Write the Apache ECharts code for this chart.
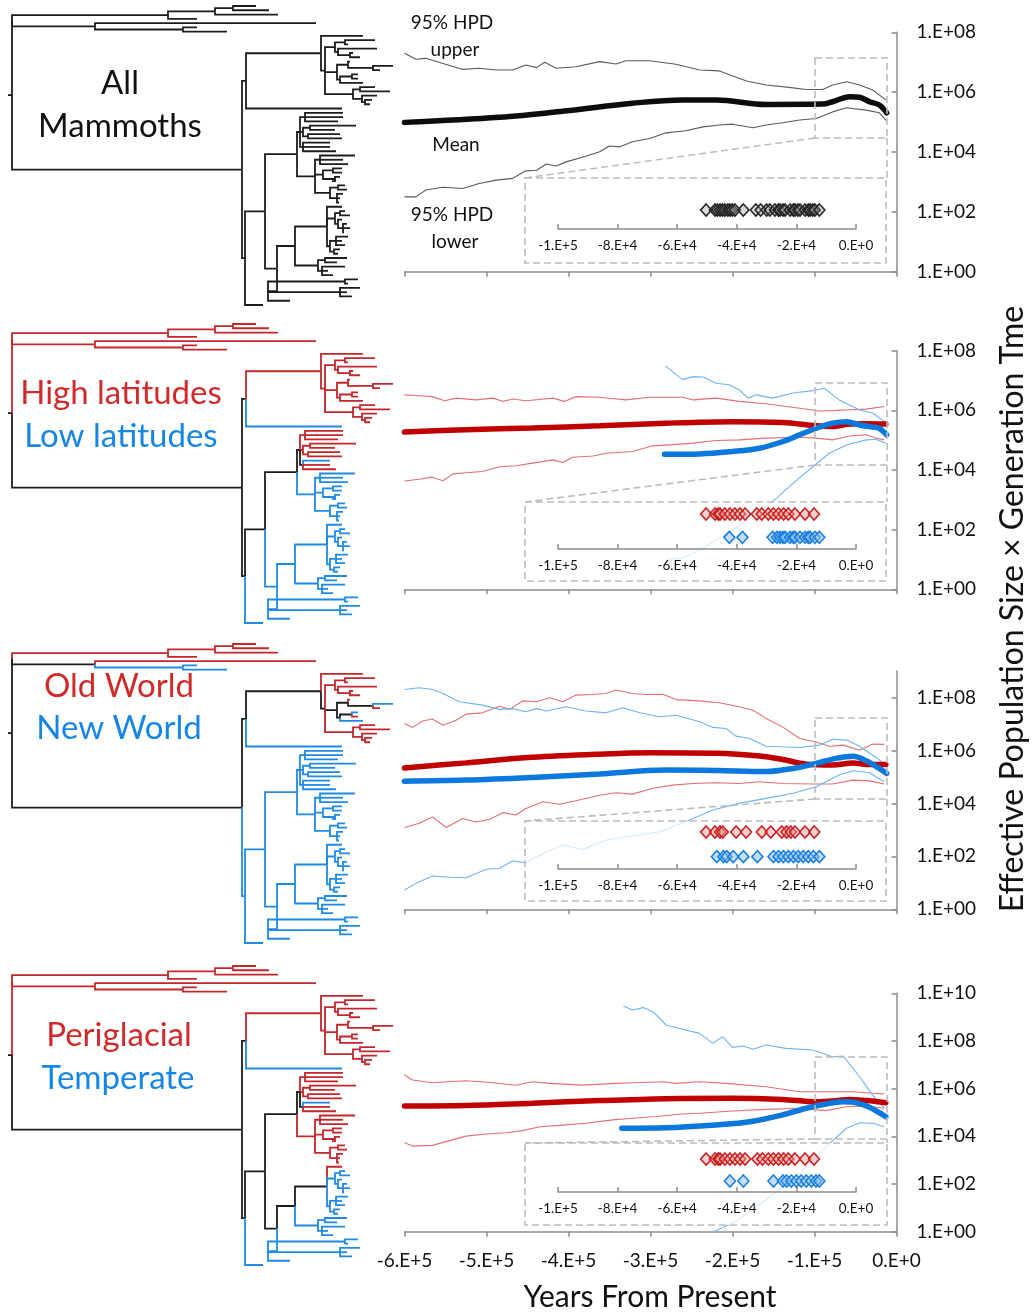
<!DOCTYPE html>
<html>
<head>
<meta charset="utf-8">
<script src="https://cdn.jsdelivr.net/npm/echarts@6/dist/echarts.min.js"></script>
<style>
  html, body { margin: 0; padding: 0; background: #fff; }
  #chart { width: 1032px; height: 1315px; }
</style>
</head>
<body>
<div id="chart"></div>
<script>
// ---------------------------------------------------------------------------
// Phylogeny (time tree). Number after each colon = node depth from the root.
// Leaf labels carry the trait state for the three trait panels, in order:
// latitude (r = high, b = low), continent (r = Old World, b = New World),
// habitat (r = periglacial, b = temperate).
// ---------------------------------------------------------------------------
const cladeOutgroup = "((((rrr:256,rrr:269):233,rrr:278):215,rrr:197):168,(rrr:316,(rbr:197,rbr:227):183):95):12";
const cladeNorth = "((rrr:363,(((rrr:375,rrr:348):345,(rrr:377,(rrr:353,rrr:360):350):338):335," +
  "((rrr:350,(rbr:393,rrr:380):373):348,((rbr:358,rrr:358):352,rbr:363):340):337," +
  "((rrr:375,rrr:390):360,(rrr:377,(rrr:372,rrr:370):365):362):353):325):321,bbb:342):246";
const cladeH1 = "((rbr:343,rbr:343,rbr:338):305,((rbr:356,rbr:335):310,(rbr:340,rbr:342):308):303,(bbb:330,rbr:330,rbr:336):303):300";
const cladeK = "((bbr:355,bbr:343,bbr:348):320,((bbr:342,bbr:342):333,(bbr:340,bbr:332):335):323,((bbr:345,bbr:347):338,(bbr:343,bbr:340,bbr:339):337):330):315";
const cladeM = "(bbr:342,((bbb:345,bbb:350):340,(bbb:342,(bbb:347,bbb:350,bbb:344):343):338):335,((bbb:348,bbb:342,bbb:345):336,(bbb:340,bbb:338):334):330):327";
const cladeN = "((bbb:347,bbb:337):325,(bbb:345,bbb:328,bbb:333):322):318";
const cladeZ = "((bbb:358,bbb:348):345,(bbb:360,bbb:347,bbb:352):340,bbb:290):268";
const cladeSouth = "(((" + cladeH1 + "," + cladeK + "):297,((" + cladeM + "," + cladeN + "):295," + cladeZ + "):277):265,bbb:263):245";
const treeNewick = "((" + cladeOutgroup + ",(" + cladeNorth + "," + cladeSouth + "):242):12):8";

// ---------------------------------------------------------------------------
// Skyline reconstructions: [thousand years before present, log10(Ne * tau)]
// ---------------------------------------------------------------------------
const allMean = [[-600,4.99],[-484,5.16],[-402,5.38],[-322,5.63],[-261,5.74],[-220,5.74],[-159,5.59],[-90,5.60],[-78,5.68],[-57,5.85],[-45,5.83],[-33,5.68],[-21,5.57],[-12,5.31]];
const allUpper = [[-600,7.30],[-586,7.10],[-574,7.13],[-553,6.96],[-529,6.76],[-509,6.80],[-488,6.74],[-468,6.74],[-452,6.91],[-439,6.82],[-429,7.00],[-415,6.80],[-391,6.85],[-362,7.02],[-342,6.94],[-330,7.05],[-301,7.05],[-269,6.93],[-240,6.74],[-216,6.71],[-183,6.37],[-159,6.24],[-131,6.16],[-110,6.09],[-90,6.09],[-78,6.24],[-61,6.35],[-45,6.24],[-29,6.07],[-13,5.74]];
const allLower = [[-600,2.50],[-586,2.50],[-574,2.73],[-553,2.82],[-529,2.78],[-509,2.95],[-488,3.06],[-468,3.12],[-452,3.37],[-439,3.39],[-427,3.60],[-415,3.53],[-403,3.67],[-379,3.86],[-362,4.01],[-350,4.20],[-338,4.17],[-322,4.34],[-301,4.45],[-281,4.64],[-257,4.71],[-236,4.84],[-216,4.90],[-200,4.93],[-175,4.81],[-159,4.90],[-139,4.98],[-118,5.07],[-98,5.12],[-78,5.34],[-61,5.48],[-37,5.40],[-21,5.31],[-12,5.04]];

const highMean = [[-600,5.27],[-525,5.35],[-444,5.41],[-362,5.48],[-281,5.57],[-200,5.62],[-139,5.59],[-98,5.48],[-78,5.46],[-57,5.54],[-37,5.55],[-13,5.54]];
const highUpper = [[-600,6.52],[-582,6.49],[-566,6.46],[-551,6.32],[-537,6.41],[-513,6.35],[-492,6.41],[-480,6.30],[-468,6.38],[-452,6.32],[-419,6.41],[-405,6.30],[-391,6.46],[-362,6.44],[-330,6.35],[-301,6.44],[-261,6.44],[-248,6.35],[-220,6.41],[-192,6.30],[-159,6.22],[-118,6.07],[-94,5.98],[-78,5.99],[-57,6.02],[-37,6.04],[-15,6.13]];
const highLower = [[-600,3.63],[-582,3.69],[-566,3.76],[-553,3.64],[-541,3.87],[-525,3.91],[-505,3.95],[-484,4.11],[-464,4.14],[-444,4.23],[-419,4.34],[-407,4.25],[-395,4.43],[-370,4.47],[-354,4.56],[-322,4.62],[-297,4.81],[-273,4.85],[-248,4.90],[-220,4.99],[-192,5.01],[-159,5.07],[-118,5.10],[-98,5.07],[-78,5.01],[-57,5.14],[-37,5.18],[-25,5.07],[-15,5.01]];
const lowMean = [[-283,4.53],[-240,4.54],[-200,4.62],[-167,4.73],[-139,4.95],[-118,5.18],[-98,5.40],[-78,5.57],[-61,5.62],[-45,5.51],[-29,5.44],[-21,5.40],[-12,5.18]];
const lowUpper = [[-282,7.49],[-261,7.03],[-248,7.13],[-236,7.12],[-220,6.91],[-204,6.86],[-192,6.69],[-181,6.41],[-171,6.52],[-151,6.41],[-126,6.58],[-102,6.66],[-88,6.74],[-70,6.35],[-45,6.01],[-29,5.91],[-13,5.59]];
const lowLower = [[-281,1.01],[-261,1.04],[-240,1.32],[-216,1.71],[-200,1.99],[-175,2.44],[-151,2.94],[-126,3.56],[-102,4.11],[-82,4.56],[-61,4.84],[-37,5.01],[-25,5.03],[-13,4.90]];

const oldMean = [[-600,5.34],[-525,5.53],[-444,5.74],[-362,5.86],[-301,5.91],[-220,5.89],[-167,5.79],[-139,5.66],[-110,5.48],[-78,5.45],[-53,5.53],[-37,5.47],[-13,5.47]];
const oldUpper = [[-600,7.02],[-590,6.87],[-578,7.11],[-566,7.19],[-553,6.95],[-537,7.14],[-525,7.37],[-505,7.42],[-484,7.67],[-472,7.55],[-456,7.87],[-439,7.84],[-423,7.99],[-407,7.84],[-391,8.09],[-370,8.11],[-354,8.15],[-342,8.28],[-322,8.15],[-305,8.11],[-285,8.12],[-269,7.92],[-240,7.87],[-216,7.80],[-192,7.65],[-175,7.52],[-159,7.21],[-139,6.89],[-118,6.45],[-98,6.32],[-82,6.16],[-65,6.20],[-45,6.01],[-29,6.24],[-15,6.23]];
const oldLower = [[-600,3.09],[-582,3.25],[-566,3.49],[-549,3.09],[-529,3.43],[-513,3.30],[-496,3.40],[-480,3.65],[-464,3.56],[-452,3.81],[-431,4.06],[-411,3.97],[-391,4.10],[-362,4.31],[-342,4.40],[-322,4.35],[-297,4.57],[-273,4.69],[-248,4.75],[-220,4.78],[-192,4.75],[-167,4.82],[-139,4.75],[-102,4.73],[-78,4.73],[-53,4.88],[-33,4.85],[-15,4.73]];
const newMean = [[-600,4.84],[-525,4.88],[-444,4.98],[-362,5.11],[-281,5.26],[-220,5.24],[-159,5.20],[-126,5.32],[-98,5.51],[-74,5.70],[-53,5.78],[-37,5.61],[-21,5.32],[-12,5.13]];
const newUpper = [[-600,8.30],[-582,8.37],[-566,8.30],[-553,8.15],[-533,7.84],[-505,7.71],[-484,7.55],[-468,7.58],[-452,7.46],[-439,7.58],[-427,7.49],[-403,7.65],[-379,7.49],[-354,7.42],[-334,7.61],[-313,7.42],[-289,7.27],[-269,7.33],[-240,7.08],[-224,6.87],[-208,6.83],[-196,6.54],[-179,6.45],[-159,6.16],[-118,6.11],[-94,6.20],[-78,6.42],[-61,6.39],[-45,6.16],[-29,5.82],[-15,5.51]];
const newLower = [[-600,0.73],[-586,0.98],[-566,1.26],[-545,1.21],[-525,1.19],[-500,1.51],[-484,1.55],[-468,1.83],[-452,1.76],[-431,2.11],[-407,2.43],[-383,2.26],[-354,2.62],[-322,2.77],[-289,2.93],[-257,3.31],[-224,3.75],[-192,4.00],[-159,4.19],[-126,4.38],[-98,4.63],[-70,5.07],[-53,5.23],[-33,5.16],[-15,4.82]];

const periMean = [[-600,5.27],[-525,5.29],[-444,5.39],[-362,5.50],[-281,5.58],[-200,5.60],[-139,5.55],[-98,5.45],[-78,5.48],[-57,5.55],[-37,5.50],[-13,5.41]];
const periUpper = [[-600,6.57],[-590,6.36],[-566,6.25],[-525,6.33],[-492,6.25],[-464,6.14],[-444,6.29],[-423,6.22],[-383,6.15],[-342,6.22],[-322,6.25],[-285,6.29],[-269,6.22],[-240,6.29],[-200,6.20],[-159,6.08],[-118,5.87],[-86,5.87],[-53,5.87],[-29,5.81],[-15,5.78]];
const periLower = [[-600,3.73],[-590,3.59],[-566,3.62],[-545,3.82],[-525,4.01],[-500,4.10],[-476,4.15],[-456,4.24],[-435,4.40],[-411,4.46],[-379,4.55],[-346,4.69],[-322,4.76],[-293,4.83],[-261,4.94],[-240,4.97],[-200,5.06],[-159,5.13],[-118,5.18],[-86,5.08],[-61,5.24],[-37,5.27],[-15,5.18]];
const tempMean = [[-335,4.34],[-281,4.36],[-220,4.48],[-179,4.61],[-139,4.90],[-110,5.18],[-86,5.36],[-65,5.45],[-49,5.41],[-33,5.22],[-21,4.99],[-13,4.82]];
const tempUpper = [[-333,9.47],[-322,9.30],[-309,9.40],[-297,9.23],[-281,8.67],[-261,8.49],[-240,8.32],[-224,7.90],[-212,8.18],[-200,7.73],[-187,7.79],[-175,7.65],[-159,7.83],[-135,7.69],[-102,7.62],[-78,7.34],[-65,7.37],[-45,6.50],[-29,5.73],[-15,5.18]];
const tempLower = [[-222,0.02],[-200,0.35],[-159,1.33],[-118,2.45],[-86,3.57],[-61,4.34],[-45,4.57],[-29,4.55],[-15,4.40]];

// Radiocarbon sample ages, thousand years before present
const allDates = [-50.3,-47.3,-46.5,-45.6,-44.8,-44,-43,-42.3,-41.5,-40.6,-37.8,-33.6,-32,-30,-28.9,-27.2,-26,-25.5,-24.5,-23.8,-22.1,-21,-20.5,-19.5,-18.8,-17.1,-16,-15.4,-14.5,-13.8,-12.3];
const highDates = [-50.3,-47.3,-46.2,-45.6,-44,-42.3,-40.6,-38.9,-37.2,-33.3,-31.6,-29.4,-27.7,-26,-24.3,-22.7,-20.5,-17.1,-14.1];
const lowDates = [-42.5,-38.1,-28,-26.5,-25.5,-24.5,-23.8,-22.1,-21,-20.5,-18.8,-17.1,-16,-15.4,-13.8,-12.3];
const oldDates = [-50.3,-47.3,-45.6,-44.7,-40.2,-36.9,-31.6,-28.6,-24.9,-23.3,-21.9,-20.5,-17.1,-14];
const newDates = [-46.7,-44.5,-43.4,-41.2,-37.8,-33.1,-27.7,-26,-24.4,-22.7,-21,-19.4,-17.7,-16,-14.3,-12.3];
const periDates = [-50.3,-47.3,-46.2,-45.6,-44,-42.3,-40.6,-38.9,-37.2,-33.1,-31.4,-29.4,-27.7,-26,-24.3,-22.7,-20.5,-17.1,-14.1];
const tempDates = [-42.3,-37.8,-27.7,-24.5,-23.3,-21.7,-20,-18.4,-16.7,-15,-13.4,-12.3];

// Axis ticks
const mainYearTicks = { min: -600, max: 0, step: 100 };
const insetYearTicks = { min: -100, max: 0, step: 20 };
const sizeTickStep = 2;

// ---------------------------------------------------------------------------
// Styling and layout
// ---------------------------------------------------------------------------
const FONT = 'Lato, "Open Sans", "DejaVu Sans", sans-serif';
const INK = '#111111';
const AXIS = '#8c8c8c';
const DASH = '#bcbcbc';
const TREE_COLORS = { k: '#1c1c1c', r: '#c4262b', b: '#1f8ae6' };
const STYLE = {
  black: { mean: '#0d0d0d', band: '#5a5a5a', dotStroke: '#222222', dotFill: 'rgba(150,150,150,0.35)' },
  red:   { mean: '#c00000', band: '#e46f70', dotStroke: '#c81e1e', dotFill: 'rgba(235,150,150,0.45)' },
  blue:  { mean: '#0a78dc', band: '#6cb4f4', dotStroke: '#1a7fe0', dotFill: 'rgba(140,190,240,0.5)' }
};

const treeTop = [6, 324, 644, 966];
const treeHeight = 299;
const mainPlots = [
  { top: 32.3, bottom: 271.7, maxExp: 8 },
  { top: 350.7, bottom: 589.3, maxExp: 8 },
  { top: 671.0, bottom: 909.3, maxExp: 9 },
  { top: 993.3, bottom: 1231.7, maxExp: 10 }
];
const insetAxisY = [229, 549, 869, 1192];
const insetRowH = [19, 35, 37, 33];
const insetFrame = [[525, 178, 886, 263], [525, 502, 886, 581], [525, 821, 886, 901], [525, 1143, 887, 1225]];
const zoomFrame = [[815, 58, 887, 138], [815, 383, 887, 465], [815, 718, 887, 799], [815, 1057, 887, 1139]];

const panels = [
  { trait: -1, groups: [{ c: 'black', mean: allMean, upper: allUpper, lower: allLower, dates: allDates, row: 1 }] },
  { trait: 0, groups: [
      { c: 'red', mean: highMean, upper: highUpper, lower: highLower, dates: highDates, row: 1 },
      { c: 'blue', mean: lowMean, upper: lowUpper, lower: lowLower, dates: lowDates, row: 1 / 3 } ] },
  { trait: 1, groups: [
      { c: 'red', mean: oldMean, upper: oldUpper, lower: oldLower, dates: oldDates, row: 1 },
      { c: 'blue', mean: newMean, upper: newUpper, lower: newLower, dates: newDates, row: 1 / 3 } ] },
  { trait: 2, groups: [
      { c: 'red', mean: periMean, upper: periUpper, lower: periLower, dates: periDates, row: 1 },
      { c: 'blue', mean: tempMean, upper: tempUpper, lower: tempLower, dates: tempDates, row: 1 / 3 } ] }
];

// ---------------------------------------------------------------------------
// Tree parsing and layout
// ---------------------------------------------------------------------------
function parseTree(str) {
  const s = str.replace(/\s+/g, '');
  let i = 0;
  function node() {
    const n = { children: [] };
    if (s[i] === '(') {
      i++;
      n.children.push(node());
      while (s[i] === ',') { i++; n.children.push(node()); }
      i++;
    } else {
      let name = '';
      while (i < s.length && ':,()'.indexOf(s[i]) < 0) name += s[i++];
      n.name = name;
    }
    if (s[i] === ':') {
      i++;
      let num = '';
      while (i < s.length && ',()'.indexOf(s[i]) < 0) num += s[i++];
      n.depth = parseFloat(num);
    }
    return n;
  }
  const root = node();
  let leaf = 0;
  (function place(n) {
    if (!n.children.length) { n.y = leaf++; return; }
    n.children.forEach(place);
    n.y = (n.children[0].y + n.children[n.children.length - 1].y) / 2;
  })(root);
  root.leafCount = leaf;
  return root;
}

function nodeState(n, k) {
  if (k < 0) return 'k';
  if (!n.children.length) return n.name[k];
  const st = n.children.map(c => nodeState(c, k));
  return st.every(v => v === st[0]) ? st[0] : 'k';
}

function branchSegments(root, k) {
  const out = [];
  (function walk(n) {
    n.children.forEach(c => {
      out.push({ v: [n.depth, n.y, c.depth, c.y], s: nodeState(c, k) });
      walk(c);
    });
  })(root);
  return out;
}

const tree = parseTree(treeNewick);

// ---------------------------------------------------------------------------
// Label formatting (Excel-style scientific)
// ---------------------------------------------------------------------------
function sci(v) {
  if (Math.abs(v) < 1e-9) return '0.E+0';
  const e = Math.floor(Math.log10(Math.abs(v)) + 1e-9);
  const m = Math.round(v / Math.pow(10, e));
  return m + '.E+' + e;
}
function sizeLabel(exp) {
  if (Math.round(exp) % sizeTickStep !== 0) return '';
  return '1.E+' + String(Math.round(exp)).padStart(2, '0');
}

// ---------------------------------------------------------------------------
// Build option
// ---------------------------------------------------------------------------
const grid = [], xAxis = [], yAxis = [], series = [], graphic = [];

// Trees: grids 0-3
panels.forEach((p, i) => {
  grid.push({ left: 0, top: treeTop[i], width: 400, height: treeHeight, outerBoundsMode: 'none', containLabel: false, show: false });
  xAxis.push({ gridIndex: i, type: 'value', min: 0, max: 400, show: false });
  yAxis.push({ gridIndex: i, type: 'value', min: 0, max: tree.leafCount - 1, inverse: true, show: false });
  const segs = branchSegments(tree, p.trait);
  series.push({
    type: 'custom', xAxisIndex: i, yAxisIndex: i, silent: true, animation: false, z: 2,
    data: segs.map(d => d.v),
    renderItem(params, api) {
      const a = api.coord([api.value(0), api.value(1)]);
      const b = api.coord([api.value(0), api.value(3)]);
      const c = api.coord([api.value(2), api.value(3)]);
      return {
        type: 'polyline',
        shape: { points: [a, b, c] },
        style: { stroke: TREE_COLORS[segs[params.dataIndex].s], lineWidth: 1.8, fill: null, lineJoin: 'miter' }
      };
    }
  });
});

// Skyline plots: grids 4-7
panels.forEach((p, i) => {
  const gi = 4 + i;
  const m = mainPlots[i];
  grid.push({ left: 404.5, top: m.top, width: 492, height: m.bottom - m.top, outerBoundsMode: 'none', containLabel: false, show: false });
  const ticksY = [];
  for (let v = 0; v <= m.maxExp; v += sizeTickStep) ticksY.push(v);
  xAxis.push({
    gridIndex: gi, type: 'value', min: mainYearTicks.min, max: mainYearTicks.max, interval: mainYearTicks.step,
    axisLine: { show: true, onZero: false, lineStyle: { color: AXIS, width: 1.5 } },
    axisTick: { show: true, inside: false, length: 5, lineStyle: { color: AXIS, width: 1.5 } },
    splitLine: { show: false },
    axisLabel: {
      show: i === 3, margin: 20, color: INK, fontSize: 19, fontFamily: FONT,
      showMinLabel: true, showMaxLabel: true, hideOverlap: false,
      formatter: v => sci(v * 1000)
    }
  });
  yAxis.push({
    gridIndex: gi, type: 'value', position: 'right', min: 0, max: m.maxExp, interval: sizeTickStep,
    axisLine: { show: true, onZero: false, lineStyle: { color: AXIS, width: 1.5 } },
    axisTick: { show: true, inside: true, length: 5, lineStyle: { color: AXIS, width: 1.5 }, customValues: ticksY },
    splitLine: { show: false },
    axisLabel: {
      show: true, margin: 20, color: INK, fontSize: 19, fontFamily: FONT,
      showMinLabel: true, showMaxLabel: true, hideOverlap: false, customValues: ticksY,
      formatter: sizeLabel
    }
  });
  p.groups.forEach(g => {
    const st = STYLE[g.c];
    const base = { type: 'line', xAxisIndex: gi, yAxisIndex: gi, showSymbol: false, symbol: 'none', silent: true, animation: false, clip: false };
    series.push(Object.assign({}, base, { data: g.upper, lineStyle: { color: st.band, width: 1.1 }, z: 3 }));
    series.push(Object.assign({}, base, { data: g.lower, lineStyle: { color: st.band, width: 1.1 }, z: 3 }));
  });
  p.groups.forEach((g, gIdx) => {
    const st = STYLE[g.c];
    series.push({
      type: 'line', xAxisIndex: gi, yAxisIndex: gi, showSymbol: false, symbol: 'none', silent: true, animation: false, clip: false,
      smooth: 0.35, data: g.mean, lineStyle: { color: st.mean, width: 5.5, cap: 'round' }, z: 4 + gIdx
    });
  });
});

// Sample-age insets: grids 8-11
panels.forEach((p, i) => {
  const gi = 8 + i;
  grid.push({ left: 558, top: insetAxisY[i] - insetRowH[i], width: 298, height: insetRowH[i], outerBoundsMode: 'none', containLabel: false, show: false });
  xAxis.push({
    gridIndex: gi, type: 'value', min: insetYearTicks.min, max: insetYearTicks.max, interval: insetYearTicks.step, z: 15,
    axisLine: { show: true, onZero: false, lineStyle: { color: AXIS, width: 1.5 } },
    axisTick: { show: true, inside: true, length: 5, lineStyle: { color: AXIS, width: 1.5 } },
    splitLine: { show: false },
    axisLabel: {
      show: true, margin: 10, color: INK, fontSize: 13.5, fontFamily: FONT,
      showMinLabel: true, showMaxLabel: true, hideOverlap: false,
      formatter: v => sci(v * 1000)
    }
  });
  yAxis.push({ gridIndex: gi, type: 'value', min: 0, max: 1, show: false });
  p.groups.forEach(g => {
    const st = STYLE[g.c];
    series.push({
      type: 'scatter', xAxisIndex: gi, yAxisIndex: gi, silent: true, animation: false, z: 20,
      symbol: 'diamond', symbolSize: [11, 12],
      data: g.dates.map(t => [t, g.row]),
      itemStyle: { color: st.dotFill, borderColor: st.dotStroke, borderWidth: 1.6, opacity: 1 }
    });
  });
});

// Inset frames, zoom windows and guide lines
const dashStyle = { stroke: DASH, lineWidth: 1.6, lineDash: [7, 4], fill: null };
panels.forEach((p, i) => {
  const f = insetFrame[i], zf = zoomFrame[i];
  graphic.push({ type: 'rect', silent: true, z: 10,
    shape: { x: f[0], y: f[1], width: f[2] - f[0], height: f[3] - f[1] },
    style: { fill: 'rgba(255,255,255,0.72)', stroke: DASH, lineWidth: 1.6, lineDash: [7, 4] } });
  graphic.push({ type: 'rect', silent: true, z: 10,
    shape: { x: zf[0], y: zf[1], width: zf[2] - zf[0], height: zf[3] - zf[1] }, style: dashStyle });
  graphic.push({ type: 'line', silent: true, z: 10,
    shape: { x1: zf[0], y1: zf[3], x2: f[0], y2: f[1] }, style: dashStyle });
  graphic.push({ type: 'line', silent: true, z: 10,
    shape: { x1: zf[2], y1: zf[3], x2: zf[2], y2: f[1] }, style: dashStyle });
});

function label(x, y, str, size, color, extra) {
  return Object.assign({
    type: 'text', x: x, y: y, z: 30, silent: true,
    style: {
      text: str, fontSize: size, fontFamily: FONT, fill: color,
      align: 'center', verticalAlign: 'middle', textAlign: 'center', textVerticalAlign: 'middle'
    }
  }, extra || {});
}
const RED_TEXT = '#d02a2a', BLUE_TEXT = '#1686e6';
graphic.push(
  label(120, 83, 'All', 33, INK),
  label(120, 126, 'Mammoths', 33, INK),
  label(121, 393, 'High latitudes', 33, RED_TEXT),
  label(121, 436, 'Low latitudes', 33, BLUE_TEXT),
  label(119, 686, 'Old World', 33, RED_TEXT),
  label(119, 728, 'New World', 33, BLUE_TEXT),
  label(119, 1035, 'Periglacial', 33, RED_TEXT),
  label(118, 1078, 'Temperate', 33, BLUE_TEXT),
  label(452, 23, '95% HPD', 19, INK),
  label(455, 50, 'upper', 19, INK),
  label(456, 145, 'Mean', 19, INK),
  label(452, 215, '95% HPD', 19, INK),
  label(455, 242, 'lower', 19, INK),
  label(650, 1297, 'Years From Present', 30, INK),
  label(1013, 609, 'Effective Population Size \u00d7 Generation Tme', 32, INK, { rotation: Math.PI / 2 })
);

const chart = echarts.init(document.getElementById('chart'), null, { renderer: 'canvas', width: 1032, height: 1315 });
chart.setOption({
  animation: false,
  backgroundColor: '#ffffff',
  textStyle: { fontFamily: FONT },
  grid: grid,
  xAxis: xAxis,
  yAxis: yAxis,
  series: series,
  graphic: { elements: graphic }
});
</script>
</body>
</html>
